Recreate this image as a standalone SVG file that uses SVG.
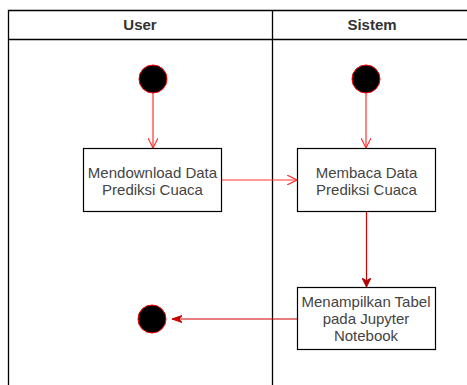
<svg xmlns="http://www.w3.org/2000/svg" width="467" height="385" viewBox="0 0 467 385">
  <defs>
    <marker id="open" viewBox="0 0 10 10" refX="10" refY="5" markerWidth="10" markerHeight="10" markerUnits="userSpaceOnUse" orient="auto">
      <path d="M0,0 L10,5 L0,10" fill="none" stroke="#ff3333" stroke-width="1.2"/>
    </marker>
    <marker id="solid" viewBox="0 0 10 10" refX="10" refY="5" markerWidth="9" markerHeight="9" markerUnits="userSpaceOnUse" orient="auto">
      <path d="M0,0 L10,5 L0,10 L3,5 Z" fill="#b20000" stroke="#b20000" stroke-width="1"/>
    </marker>
    <marker id="thin" viewBox="0 0 10 10" refX="10" refY="5" markerWidth="10" markerHeight="10" markerUnits="userSpaceOnUse" orient="auto">
      <path d="M0,1.5 L10,5 L0,8.5 L3,5 Z" fill="#cc0000" stroke="#cc0000" stroke-width="1"/>
    </marker>
  </defs>
  <style>
    .lane { fill: none; stroke: #000; stroke-width: 1.3; }
    .head { font-family: "Liberation Sans", Arial, sans-serif; font-size: 15px; font-weight: bold; fill: #333; text-anchor: middle; }
    .box { fill: #fff; stroke: #000; stroke-width: 1.2; }
    .label { font-family: "Liberation Sans", Arial, sans-serif; font-size: 15px; fill: #444; text-anchor: middle; }
    .dot { fill: #000; stroke: #ff0000; stroke-width: 1; }
    .flow { fill: none; stroke: #ff3333; stroke-width: 1.2; }
    .flow-dark { fill: none; stroke: #cc0000; stroke-width: 1.2; }
  </style>

  <!-- swimlane frame -->
  <g id="swimlanes">
    <rect x="0" y="0" width="467" height="385" fill="#fff"/>
    <path class="lane" d="M8.5,385 V10.5 H467 M8.5,39.5 H467 M272.5,10.5 V385"/>
    <text class="head" x="140" y="30">User</text>
    <text class="head" x="372" y="30">Sistem</text>
  </g>

  <!-- connectors -->
  <g id="connectors">
    <path class="flow" d="M153,93 V148" marker-end="url(#open)"/>
    <path class="flow" d="M366,93 V148" marker-end="url(#open)"/>
    <path class="flow" d="M222,180 H297" marker-end="url(#open)"/>
    <path class="flow-dark" d="M366.5,212 V287" marker-end="url(#solid)"/>
    <path class="flow-dark" d="M297,319 H172" marker-end="url(#thin)"/>
  </g>

  <g id="start-user">
    <circle class="dot" cx="153" cy="79" r="14"/>
  </g>
  <g id="start-sistem">
    <circle class="dot" cx="366" cy="79" r="14"/>
  </g>

  <g id="mendownload">
    <rect class="box" x="83.5" y="148.5" width="138" height="63"/>
    <text class="label" x="152.5" y="177.5">Mendownload Data</text>
    <text class="label" x="152.5" y="194.5">Prediksi Cuaca</text>
  </g>

  <g id="membaca">
    <rect class="box" x="297.5" y="148.5" width="138" height="63"/>
    <text class="label" x="366.5" y="177.5">Membaca Data</text>
    <text class="label" x="366.5" y="194.5">Prediksi Cuaca</text>
  </g>

  <g id="menampilkan">
    <rect class="box" x="297.5" y="287.5" width="138" height="62"/>
    <text class="label" x="366" y="307">Menampilkan Tabel</text>
    <text class="label" x="366" y="324">pada Jupyter</text>
    <text class="label" x="366" y="341">Notebook</text>
  </g>

  <g id="end-user">
    <circle class="dot" cx="152" cy="319" r="14"/>
  </g>
</svg>
